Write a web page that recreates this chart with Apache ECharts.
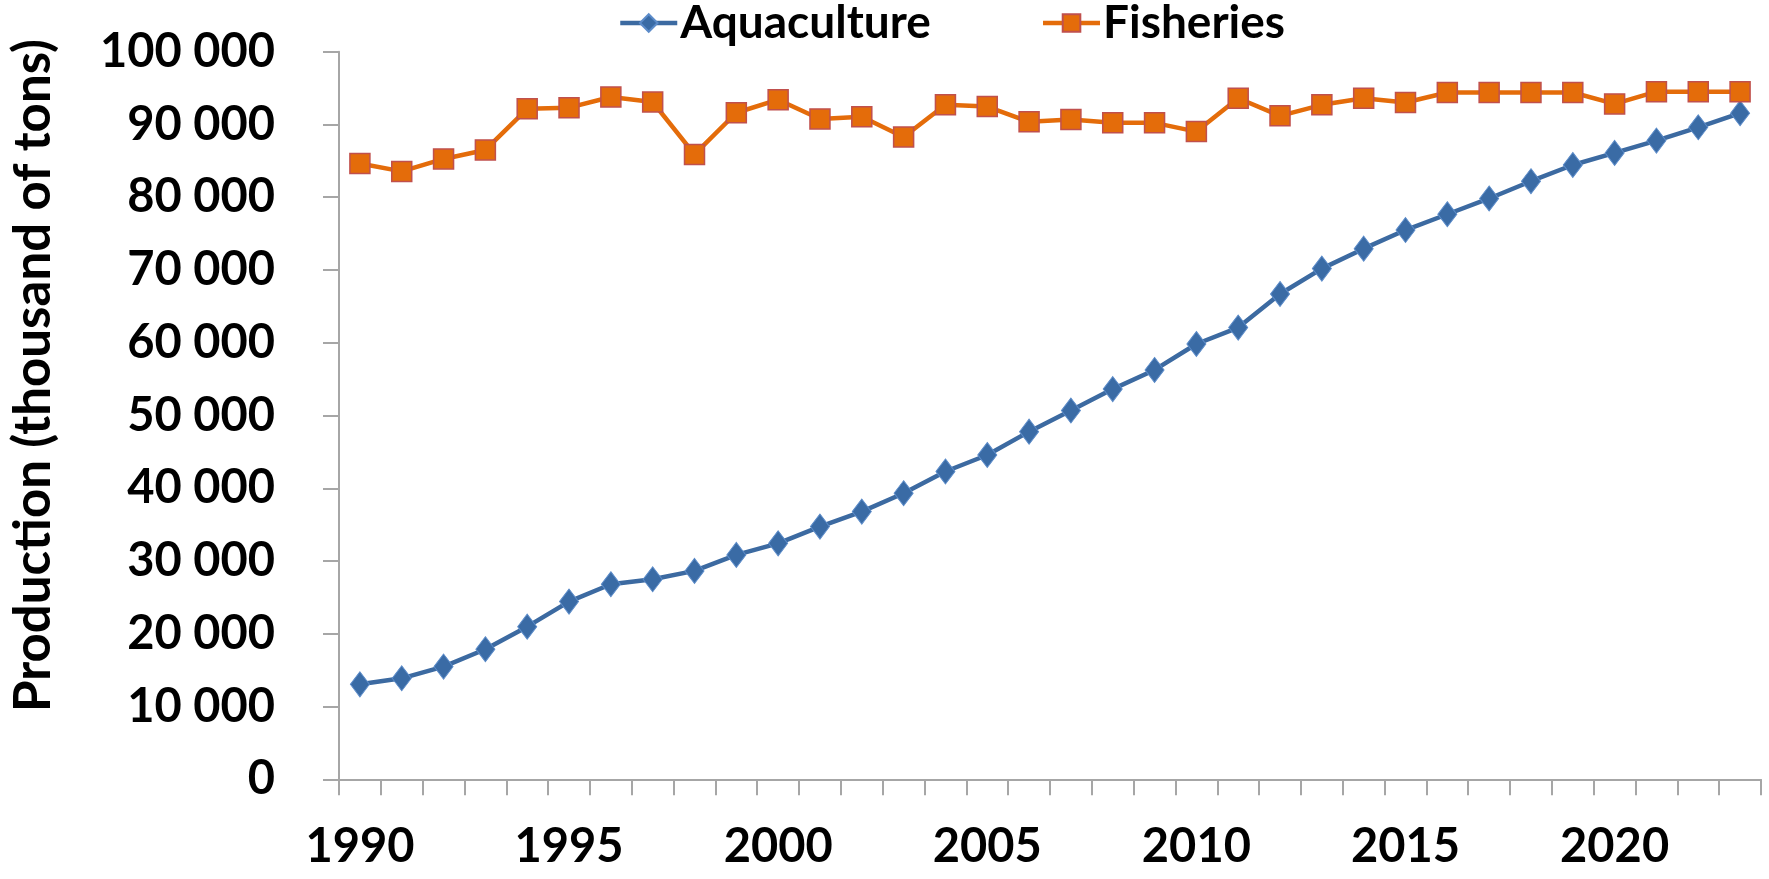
<!DOCTYPE html>
<html>
<head>
<meta charset="utf-8">
<script src="https://cdn.jsdelivr.net/npm/echarts@6/dist/echarts.min.js"></script>
<style>
html,body{margin:0;padding:0;background:#fff;}
#chart{width:1769px;height:879px;}
</style>
</head>
<body>
<div id="chart"></div>
<script>
const years = ["1990","1991","1992","1993","1994","1995","1996","1997","1998","1999","2000","2001","2002","2003","2004","2005","2006","2007","2008","2009","2010","2011","2012","2013","2014","2015","2016","2017","2018","2019","2020","2021","2022","2023"];
const aquaculture = [13050,13880,15490,17880,20980,24420,26810,27490,28640,30840,32430,34730,36790,39320,42300,44570,47780,50680,53630,56260,59830,62080,66700,70190,72930,75490,77660,79830,82200,84430,86090,87780,89610,91550];
const fisheries = [84640,83550,85260,86500,92150,92310,93780,93090,85880,91610,93400,90760,91070,88280,92700,92460,90370,90680,90220,90220,89020,93600,91180,92700,93600,93010,94390,94390,94390,94390,92820,94510,94510,94510];
const seriesNames = ["Aquaculture","Fisheries"];
const yAxisTitle = "Production (thousand of tons)";

const FONT = "Lato";
const chart = echarts.init(document.getElementById('chart'), null, {renderer:'canvas'});
function fmt(v){ return String(v).replace(/\B(?=(\d{3})+(?!\d))/g, ' '); }
const axisGray = '#A6A6A6';
chart.setOption({
  animation:false,
  backgroundColor:'#ffffff',
  legend:{
    left:618, top:0, padding:0,
    itemWidth:57, itemHeight:22, itemGap:110,
    lineStyle:{width:4.5},
    textStyle:{fontFamily:FONT, fontWeight:'bold', fontSize:46, color:'#000', lineHeight:46, padding:[0,0,0,-2]},
    data: seriesNames
  },
  grid:{left:330, right:8, top:51.7, bottom:99.7, containLabel:false},
  xAxis:{
    type:'category', data:years, boundaryGap:true,
    axisLine:{lineStyle:{color:axisGray, width:2}},
    axisTick:{show:true, interval:0, alignWithLabel:false, length:16, lineStyle:{color:axisGray, width:2}},
    axisLabel:{interval:4, margin:44, fontFamily:FONT, fontWeight:'bold', fontSize:47, color:'#000'},
    splitLine:{show:false}
  },
  yAxis:{
    type:'value', min:0, max:100000, interval:10000,
    name: yAxisTitle, nameLocation:'middle', nameGap:280, nameRotate:90,
    nameTextStyle:{fontFamily:FONT, fontWeight:'bold', fontSize:51, color:'#000', padding:[0,0,0,80]},
    axisLine:{show:true, lineStyle:{color:axisGray, width:2}},
    axisTick:{show:true, length:16, lineStyle:{color:axisGray, width:2}},
    axisLabel:{margin:64, formatter:fmt, fontFamily:FONT, fontWeight:'bold', fontSize:47, color:'#000'},
    splitLine:{show:false}
  },
  series:[
    {
      name:seriesNames[0], type:'line', data:aquaculture,
      symbol:'diamond', symbolSize:[19,25],
      lineStyle:{color:'#3C6AA1', width:4.5},
      itemStyle:{color:'#3A6BA5', borderColor:'#5B8BC9', borderWidth:1},
      z:2
    },
    {
      name:seriesNames[1], type:'line', data:fisheries,
      symbol:'rect', symbolSize:20,
      lineStyle:{color:'#E46C0A', width:4.5},
      itemStyle:{color:'#E46C0A', borderColor:'#C0504D', borderWidth:1.5},
      z:3
    }
  ]
});
</script>
</body>
</html>
